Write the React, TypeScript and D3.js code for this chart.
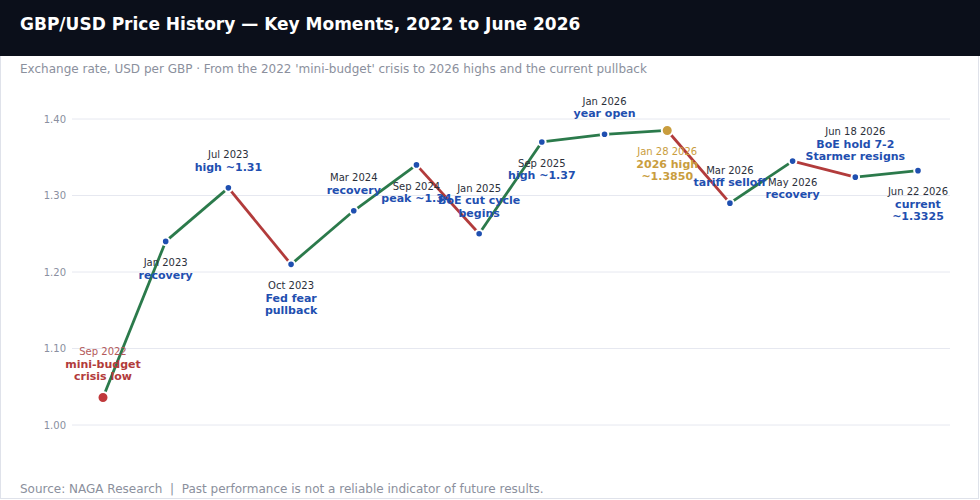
import React from 'react';
import * as d3 from 'd3';

const dates = [
  'Sep 2022', 'Jan 2023', 'Jul 2023', 'Oct 2023', 'Mar 2024', 'Sep 2024', 'Jan 2025',
  'Sep 2025', 'Jan 2026', 'Jan 28 2026', 'Mar 2026', 'May 2026', 'Jun 18 2026', 'Jun 22 2026'
];
const rates = [1.036, 1.24, 1.31, 1.21, 1.28, 1.34, 1.25, 1.37, 1.38, 1.385, 1.29, 1.345, 1.324, 1.3325];
const notes = [
  ['mini-budget', 'crisis low'],
  ['recovery'],
  ['high ~1.31'],
  ['Fed fear', 'pullback'],
  ['recovery'],
  ['peak ~1.34'],
  ['BoE cut cycle', 'begins'],
  ['high ~1.37'],
  ['year open'],
  ['2026 high', '~1.3850'],
  ['tariff selloff'],
  ['recovery'],
  ['BoE hold 7-2', 'Starmer resigns'],
  ['current', '~1.3325']
];
// which labels sit above their dot
const above = [true, false, true, false, true, false, true, false, true, false, true, false, true, false];
const yTicks = [1.0, 1.1, 1.2, 1.3, 1.4];

const W = 980;
const H = 500;
const FONT = '"DejaVu Sans", sans-serif';
const UP = '#2b7a4b';
const DOWN = '#b23b3b';
const BLUE = '#1f4fb0';
const GOLD = '#c99d3e';

export default function App() {
  const x = d3.scalePoint<string>().domain(dates).range([103, 918]);
  const y = d3.scaleLinear().domain([1.0, 1.4]).range([425, 119]);

  const segments = d3.pairs(rates.map((r, i) => ({ r, d: dates[i] })));
  const line = d3.line<{ r: number; d: string }>().x(p => x(p.d) as number).y(p => y(p.r));

  const special = (i: number) => (i === 0 ? 'low' : i === 9 ? 'high' : null);

  return (
    <div style={{ position: 'absolute', left: 0, top: 0 }}>
      <svg width={W} height={H} style={{ display: 'block', fontFamily: FONT }}>
        <rect x={0.5} y={0.5} width={W - 2} height={H - 2} fill="#fff" stroke="#dfe2ea" />
        <rect x={0} y={0} width={W} height={56} fill="#0b0f1a" />
        <text x={20} y={30} fill="#fff" fontSize={17} fontWeight="bold">
          GBP/USD Price History — Key Moments, 2022 to June 2026
        </text>
        <text x={20} y={73} fill="#8b909d" fontSize={12}>
          Exchange rate, USD per GBP · From the 2022 'mini-budget' crisis to 2026 highs and the current pullback
        </text>

        {/* grid + y labels */}
        {yTicks.map(t => (
          <g key={t}>
            <line x1={72} x2={950} y1={y(t)} y2={y(t)} stroke="#e6e8f0" strokeWidth={1} />
            <text x={66} y={y(t) + 3.5} textAnchor="end" fontSize={10} fill="#8a8fa0">
              {t.toFixed(2)}
            </text>
          </g>
        ))}

        {/* segments coloured by direction */}
        {segments.map(([a, b], i) => (
          <path
            key={i}
            d={line([a, b]) as string}
            fill="none"
            stroke={b.r >= a.r ? UP : DOWN}
            strokeWidth={2.8}
          />
        ))}

        {rates.map((r, i) => {
          const s = special(i);
          const cx = x(dates[i]) as number;
          const cy = y(r);
          const fill = s === 'low' ? '#c0393b' : s === 'high' ? GOLD : BLUE;
          return (
            <circle key={i} cx={cx} cy={cy} r={s ? 5.5 : 3.8} fill={fill} stroke="#fff" strokeWidth={2} />
          );
        })}

        {/* annotations */}
        {rates.map((r, i) => {
          const s = special(i);
          const cx = x(dates[i]) as number;
          const cy = y(r);
          const lines = [dates[i], ...notes[i]];
          const step = 12.4;
          const first = above[i] ? cy - 21 - step * (lines.length - 1) : cy + 21;
          const dateColor = s === 'low' ? '#b45a5a' : s === 'high' ? GOLD : '#2b2f3a';
          const noteColor = s === 'low' ? '#b23b3b' : s === 'high' ? GOLD : BLUE;
          return (
            <g key={'a' + i} textAnchor="middle">
              {lines.map((t, k) => (
                <text
                  key={k}
                  x={cx}
                  y={first + k * step + 3.8}
                  fontSize={k === 0 ? 10 : 11}
                  fontWeight={k === 0 ? 'normal' : 'bold'}
                  fill={k === 0 ? dateColor : noteColor}
                >
                  {t}
                </text>
              ))}
            </g>
          );
        })}

        <text x={20} y={493} fill="#8b909d" fontSize={12} style={{ whiteSpace: 'pre' }}>
          {'Source: NAGA Research  |  Past performance is not a reliable indicator of future results.'}
        </text>
      </svg>
    </div>
  );
}
